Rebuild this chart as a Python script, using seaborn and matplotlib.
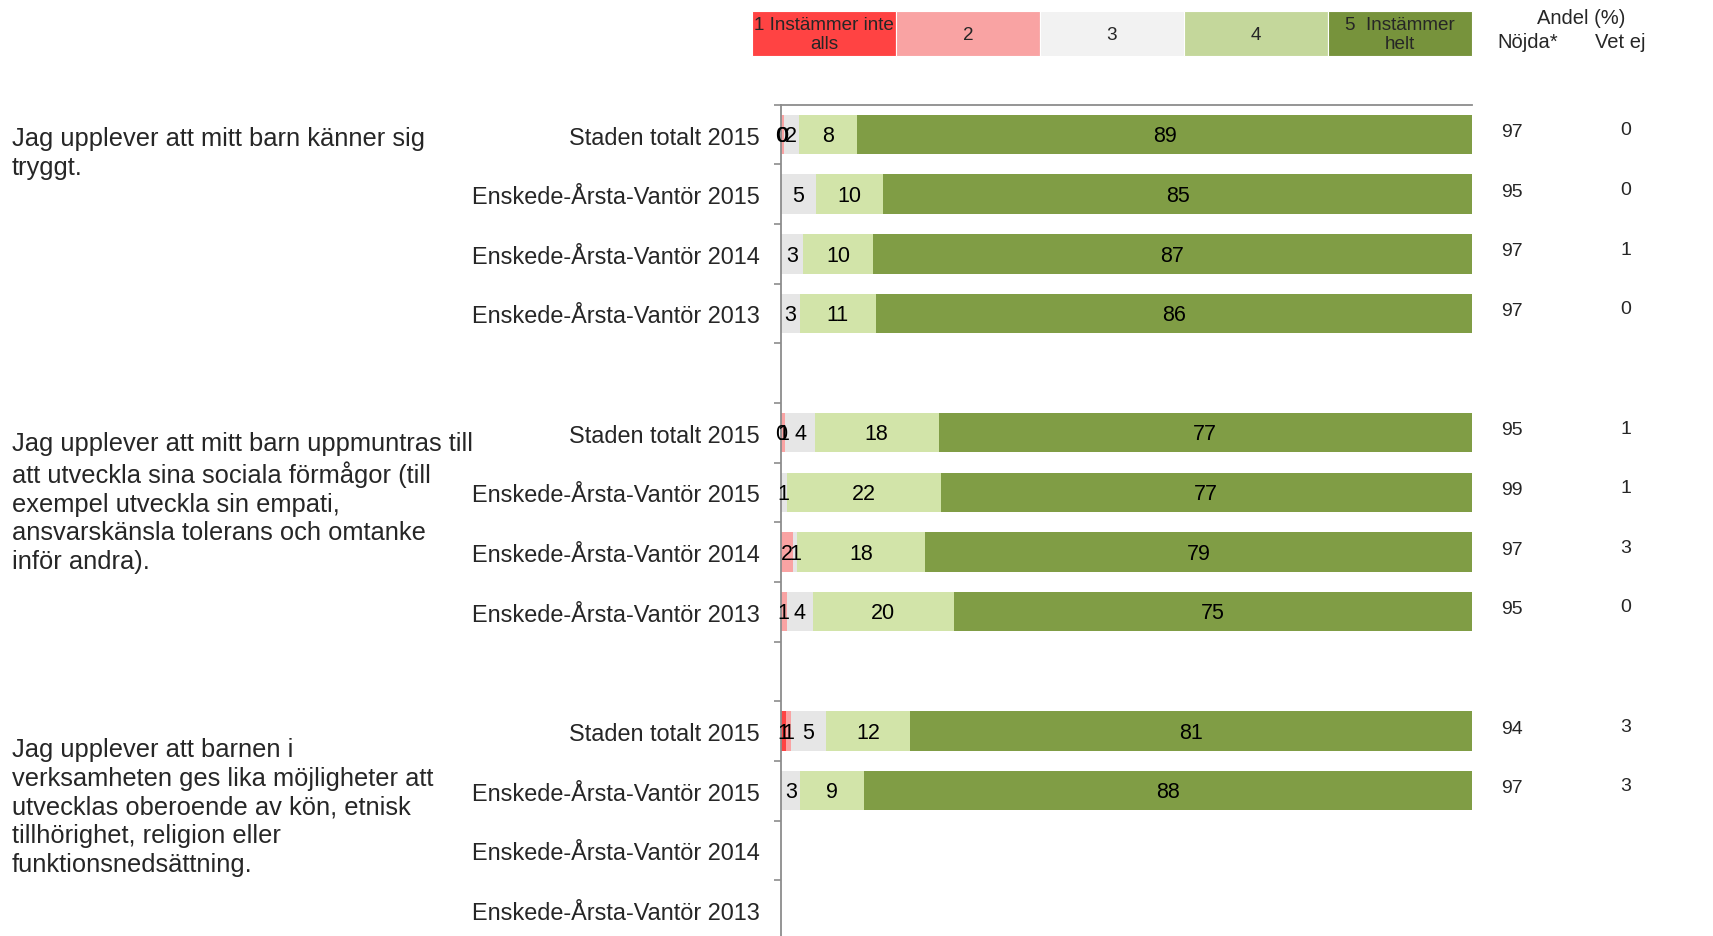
import numpy as np
import pandas as pd
import matplotlib
matplotlib.use("Agg")
import matplotlib.pyplot as plt
import seaborn as sns
from matplotlib.patches import Rectangle

sns.set_theme(style="white")
plt.rcParams["font.family"] = ["Liberation Sans", "DejaVu Sans"]

# ---- data -------------------------------------------------------------
categories = ["1 Instämmer inte\nalls", "2", "3", "4", "5  Instämmer\nhelt"]
row_labels = ["Staden totalt 2015", "Enskede-Årsta-Vantör 2015",
              "Enskede-Årsta-Vantör 2014", "Enskede-Årsta-Vantör 2013"]
questions = [
    "Jag upplever att mitt barn känner sig\ntryggt.",
    "Jag upplever att mitt barn uppmuntras till\natt utveckla sina sociala förmågor (till\n"
    "exempel utveckla sin empati,\nansvarskänsla tolerans och omtanke\ninför andra).",
    "Jag upplever att barnen i\nverksamheten ges lika möjligheter att\nutvecklas oberoende av kön, etnisk\n"
    "tillhörighet, religion eller\nfunktionsnedsättning.",
]
nan = np.nan
# shares (%) per answer category; 4 rows per question
cat1 = [0.0, nan, nan, nan,   0.0, nan, nan, nan,   0.7, nan, nan, nan]
cat2 = [0.4, nan, nan, nan,   0.6, nan, 1.7, 0.8,   0.7, nan, nan, nan]
cat3 = [2.2, 5.0, 3.2, 2.7,   4.3, 0.8, 0.6, 3.8,   5.1, 2.8, nan, nan]
cat4 = [8.4, 9.8, 10.1, 11.0, 17.9, 22.3, 18.5, 20.4, 12.2, 9.2, nan, nan]
cat5 = [89.0, 85.2, 86.7, 86.3, 77.2, 76.9, 79.2, 75.0, 81.3, 88.0, nan, nan]
nojda = [97, 95, 97, 97, 95, 99, 97, 95, 94, 97, None, None]
vet_ej = [0, 0, 1, 0, 1, 1, 3, 0, 3, 3, None, None]

bar_colors = ["#FF4343", "#F9A3A3", "#E6E6E6", "#D2E4A9", "#809D45"]
legend_colors = ["#FF4343", "#F9A3A3", "#F2F2F2", "#C4D79B", "#77933C"]

# ---- layout of rows: 4 rows per question, one blank slot between ------
n_q = len(questions)
slots = [g * 5 + r for g in range(n_q) for r in range(4)]
all_slots = list(range(slots[-1] + 1))

shares = np.array([cat1, cat2, cat3, cat4, cat5], dtype=float)  # (5, 12)
filled = np.nan_to_num(shares)
cum = np.cumsum(filled, axis=0)

W, H = 1713, 937
fig = plt.figure(figsize=(W / 100, H / 100), dpi=100)
ax_top, row_h = 105.7, 59.65
ax_h = row_h * len(all_slots)
ax = fig.add_axes([781 / W, (H - ax_top - ax_h) / H, 691 / W, ax_h / H])

# stacked bars: draw cumulative totals from the widest down
for k in range(len(categories) - 1, -1, -1):
    vals = dict(zip(slots, cum[k]))
    df = pd.DataFrame({"slot": all_slots,
                       "total": [vals.get(s, 0.0) for s in all_slots]})
    sns.barplot(data=df, x="total", y="slot", orient="h", native_scale=True,
                color=bar_colors[k], saturation=1, width=0.66, errorbar=None,
                linewidth=0, ax=ax)

# segment value labels
for i, s in enumerate(slots):
    for k in range(len(categories)):
        v = shares[k, i]
        if np.isnan(v):
            continue
        center = cum[k, i] - v / 2
        ax.text(center, s + 0.02, f"{v:.0f}", ha="center", va="center",
                fontsize=15.5, color="black")

# right-hand summary columns
ytr = ax.get_yaxis_transform()
for i, s in enumerate(slots):
    if nojda[i] is not None:
        ax.text(1.058, s - 0.05, f"{nojda[i]}", transform=ytr, ha="center",
                va="center", fontsize=14, clip_on=False)
        ax.text(1.223, s - 0.08, f"{vet_ej[i]}", transform=ytr, ha="center",
                va="center", fontsize=14, clip_on=False)

ax.set_xlim(0, 100)
ax.set_ylim(len(all_slots) - 0.5, -0.5)
ax.set_xlabel("")
ax.set_ylabel("")
ax.set_xticks([])

ax.set_yticks([b - 0.5 for b in range(len(all_slots))])
ax.set_yticklabels([])
ax.set_yticks(slots, minor=True)
ax.set_yticklabels(row_labels * n_q, minor=True, fontsize=16.9)
ax.tick_params(axis="y", which="major", left=True, length=5, width=1.2,
               color="#8C8C8C", direction="out")
ax.tick_params(axis="y", which="minor", left=True, length=0, pad=15.5)

for side in ["right", "bottom"]:
    ax.spines[side].set_visible(False)
for side in ["left", "top"]:
    ax.spines[side].set_visible(True)
    ax.spines[side].set_color("#8C8C8C")
    ax.spines[side].set_linewidth(1.3)

# question texts
q_tops = [127, 432, 738]
for q, t in zip(questions, q_tops):
    fig.text(12 / W, 1 - t / H, q, ha="left", va="top", fontsize=18.4,
             linespacing=1.245)

# colour key along the top
narrow = ["Liberation Sans Narrow", "Liberation Sans", "DejaVu Sans"]
box_w = 720 / len(categories)
for k, (lab, col) in enumerate(zip(categories, legend_colors)):
    x0 = 752 + k * box_w
    fig.patches.append(Rectangle((x0 / W, 1 - 57 / H), box_w / W, 45 / H,
                                 transform=fig.transFigure, facecolor=col,
                                 edgecolor="white", linewidth=0.8))
    fig.text((x0 + box_w / 2) / W, 1 - 35 / H, lab, ha="center", va="center",
             fontsize=13.6, family=narrow, linespacing=1.1)

fig.text(1581 / W, 1 - 18 / H, "Andel (%)", ha="center", va="center",
         fontsize=14.5, family=narrow)
fig.text(1528 / W, 1 - 43 / H, "Nöjda*", ha="center", va="center",
         fontsize=14.5, family=narrow)
fig.text(1620 / W, 1 - 43 / H, "Vet ej", ha="center", va="center",
         fontsize=14.5, family=narrow)

fig.savefig("out.png", dpi=100)
